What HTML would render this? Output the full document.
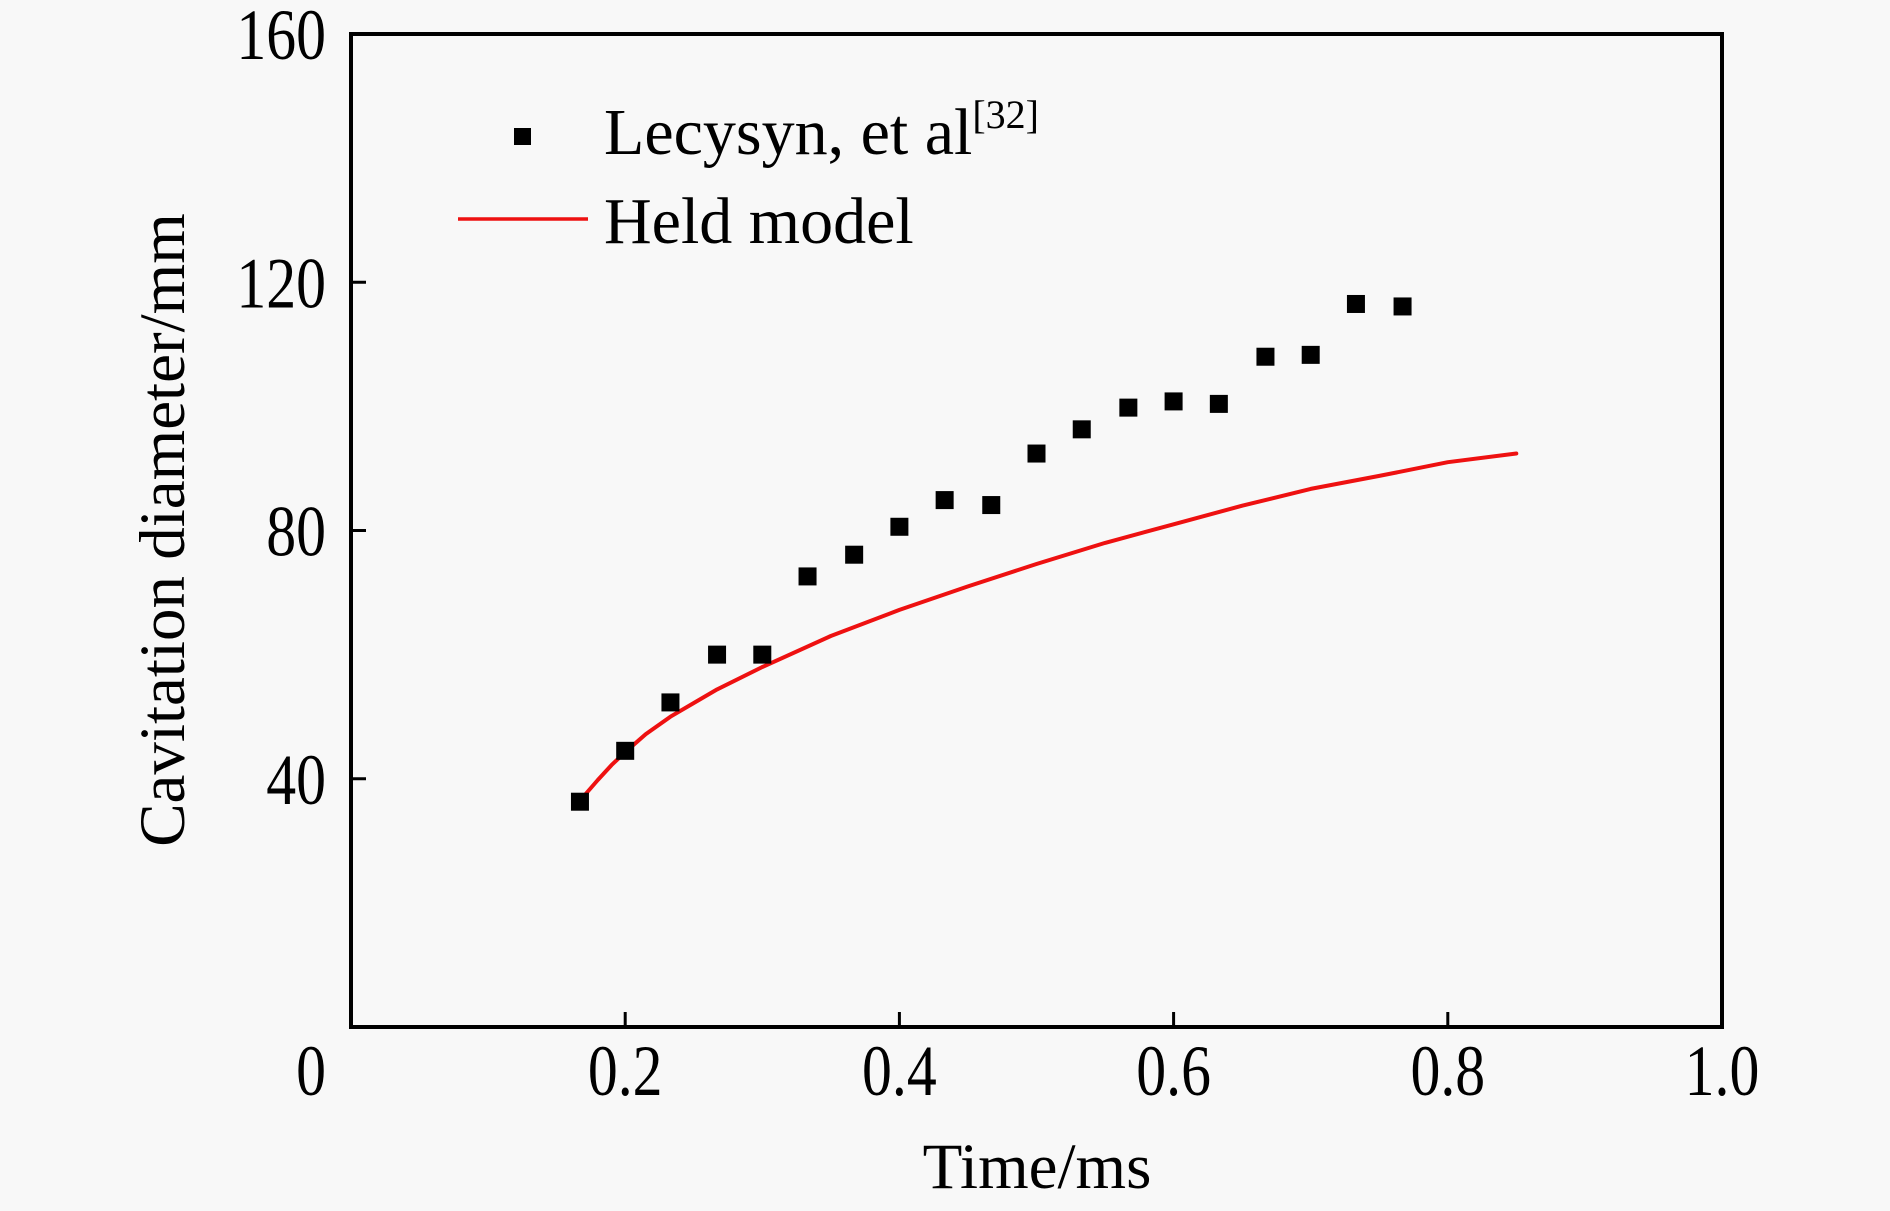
<!DOCTYPE html>
<html><head><meta charset="utf-8"><style>
html,body{margin:0;padding:0;background:#f8f8f8;}
svg{display:block;font-family:"Liberation Serif",serif;}
</style></head><body>
<svg id="chart" width="1890" height="1211" viewBox="0 0 1890 1211">
<rect x="0" y="0" width="1890" height="1211" fill="#f8f8f8"/>
<g id="plot"></g>
</svg>
<script>
const xTicks=[0.2,0.4,0.6,0.8];
const xTickLabels=["0","0.2","0.4","0.6","0.8","1.0"];
const xTickLabelVals=[0,0.2,0.4,0.6,0.8,1.0];
const yTicks=[40,80,120];
const yTickLabels=["40","80","120","160"];
const yTickLabelVals=[40,80,120,160];
const expX=[0.167,0.2,0.233,0.267,0.3,0.333,0.367,0.4,0.433,0.467,0.5,0.533,0.567,0.6,0.633,0.667,0.7,0.733,0.767];
const expY=[36.3,44.5,52.3,60,60,72.6,76.1,80.6,84.9,84.1,92.4,96.3,99.8,100.8,100.4,108,108.3,116.5,116.1];
const modelX=[0.167,0.18,0.19,0.2,0.215,0.233,0.25,0.267,0.3,0.35,0.4,0.45,0.5,0.55,0.6,0.65,0.7,0.75,0.8,0.85];
const modelY=[36.5,39.8,42.2,44.3,47.2,50,52.2,54.4,58,63,67.2,71,74.6,78,81,84,86.7,88.8,91,92.4];

const L=351,R=1722,T=34,B=1027;
const sx=v=>L+(v-0)/(1-0)*(R-L);
const sy=v=>B-(v-0)/(160-0)*(B-T);
const NS="http://www.w3.org/2000/svg";
const g=document.getElementById('plot');
function mk(tag,attrs){const e=document.createElementNS(NS,tag);for(const k in attrs)e.setAttribute(k,attrs[k]);g.appendChild(e);return e;}

let fr=mk('rect',{x:L,y:T,width:R-L,height:B-T,fill:'none',stroke:'#000','stroke-width':4});



xTicks.forEach(v=>{
  const t=mk('line',{x1:sx(v),x2:sx(v),y1:B,y2:B-15,stroke:'#000','stroke-width':3});
  
  
});
yTicks.forEach(v=>{
  const t=mk('line',{x1:L,x2:L+15,y1:sy(v),y2:sy(v),stroke:'#000','stroke-width':3});
  
  
});
xTickLabels.forEach((s,i)=>{
  const x=sx(xTickLabelVals[i]);
  const t=mk('text',{x:0,y:0,'font-size':72,'text-anchor':'middle',transform:`translate(${i==0?x-40:x},1095) scale(0.83,1)`});
  t.textContent=s;
  
  
});
yTickLabels.forEach((s,i)=>{
  const y=sy(yTickLabelVals[i]);
  const t=mk('text',{x:0,y:0,'font-size':72,'text-anchor':'end',transform:`translate(326,${y+25}) scale(0.83,1)`});
  t.textContent=s;
  
  
});

let d=modelX.map((x,i)=>(i?'L':'M')+sx(x).toFixed(1)+','+sy(modelY[i]).toFixed(1)).join(' ');
let ln=mk('path',{d:d,fill:'none',stroke:'#ee1111','stroke-width':4,'stroke-linejoin':'round','stroke-linecap':'round'});



expX.forEach((x,i)=>{
  const p=mk('rect',{x:sx(x)-9,y:sy(expY[i])-9,width:18,height:18,fill:'#000'});
  
  
});

let lm=mk('rect',{x:514,y:128,width:17,height:17,fill:'#000'});


let lt=mk('text',{x:604,y:154,'font-size':66});
lt.innerHTML='Lecysyn, et al<tspan font-size="40" dy="-26">[32]</tspan>';


let ll=mk('line',{x1:458,x2:588,y1:219,y2:219,stroke:'#ee1111','stroke-width':3.5});


let lt2=mk('text',{x:604,y:243,'font-size':66});
lt2.textContent='Held model';



let xt=mk('text',{x:1037,y:1188,'font-size':65,'text-anchor':'middle'});
xt.textContent='Time/ms';


let yt=mk('text',{x:0,y:0,'font-size':65,'text-anchor':'middle',transform:'translate(184,530) rotate(-90)'});
yt.textContent='Cavitation diameter/mm';


</script>
</body></html>
